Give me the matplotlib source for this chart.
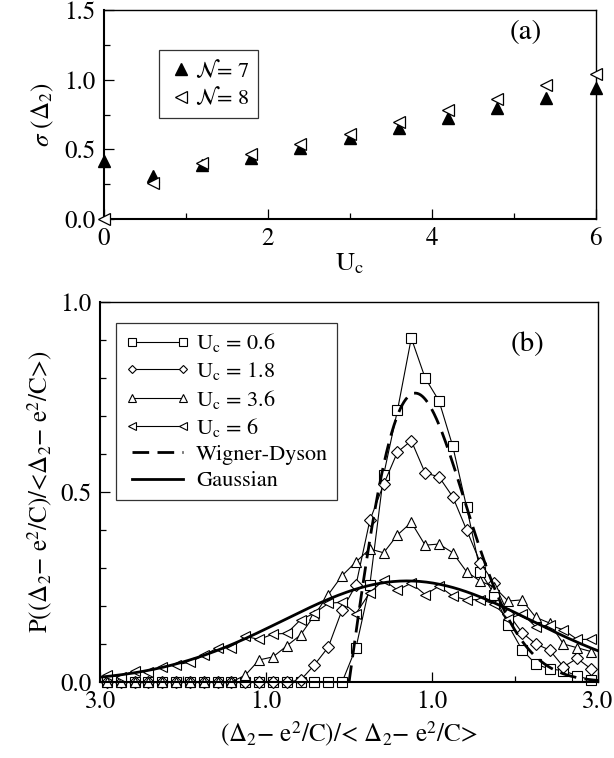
import numpy as np
import matplotlib
matplotlib.use('Agg')
import matplotlib.pyplot as plt
from matplotlib.ticker import MultipleLocator, FixedLocator

plt.rcParams['font.family'] = 'STIXGeneral'
plt.rcParams['mathtext.fontset'] = 'stix'

# (a) width of the Delta_2 distribution vs U_c
uc = [0.0, 0.6, 1.2, 1.8, 2.4, 3.0, 3.6, 4.2, 4.8, 5.4, 6.0]
sigma_n7 = [0.415, 0.31, 0.39, 0.44, 0.51, 0.58, 0.655, 0.725, 0.80, 0.87, 0.94]
sigma_n8 = [0.0, 0.26, 0.40, 0.47, 0.54, 0.61, 0.70, 0.78, 0.86, 0.96, 1.04]

# (b) histograms of the normalised spacing, 36 bins on [-3, 3]
bin_edges = np.linspace(-3, 3, 37)
s = 0.5 * (bin_edges[:-1] + bin_edges[1:])

p_uc06 = [0, 0, 0, 0, 0, 0, 0, 0, 0, 0, 0, 0, 0, 0, 0, 0, 0, 0,
          0.09, 0.255, 0.545, 0.715, 0.905, 0.80, 0.74, 0.62, 0.46, 0.29,
          0.23, 0.15, 0.085, 0.047, 0.034, 0.03, 0.016, 0.005]
p_uc18 = [0, 0, 0, 0, 0, 0, 0, 0, 0, 0, 0, 0, 0, 0,
          0.005, 0.045, 0.092, 0.19, 0.255, 0.425, 0.52, 0.605, 0.635, 0.55,
          0.54, 0.487, 0.40, 0.313, 0.26, 0.18, 0.13, 0.10, 0.084, 0.04,
          0.062, 0.034]
p_uc36 = [0, 0, 0, 0, 0, 0, 0, 0, 0, 0,
          0.018, 0.058, 0.066, 0.095, 0.124, 0.176, 0.23, 0.28, 0.316, 0.35,
          0.34, 0.387, 0.42, 0.36, 0.363, 0.34, 0.29, 0.265, 0.25, 0.213,
          0.216, 0.17, 0.155, 0.10, 0.09, 0.08]
p_uc6 = [0.018, 0.014, 0.03, 0.027, 0.04, 0.045, 0.052, 0.07, 0.09, 0.09,
         0.12, 0.112, 0.126, 0.128, 0.164, 0.181, 0.207, 0.21, 0.18, 0.235,
         0.268, 0.242, 0.26, 0.23, 0.252, 0.226, 0.216, 0.217, 0.205, 0.165,
         0.18, 0.145, 0.15, 0.137, 0.112, 0.112]

# reference distributions
gauss_mu = 0.7
gauss_sigma = 1.5
s_g = np.linspace(-3, 3, 300)
p_gauss = np.exp(-(s_g - gauss_mu) ** 2 / (2 * gauss_sigma ** 2)) / (gauss_sigma * np.sqrt(2 * np.pi))
s_wd = np.linspace(0, 3, 300)
p_wd = np.pi / 2 * s_wd * np.exp(-np.pi * s_wd ** 2 / 4)

fig = plt.figure(figsize=(6.14, 7.58), dpi=100)

# ---- panel (a)
ax1 = fig.add_axes([0.169, 0.711, 0.801, 0.2757])
ax1.plot(uc, sigma_n7, '^', color='black', ms=9, ls='none',
         label=r'$\mathcal{N}$= 7', clip_on=False, zorder=3)
ax1.plot(uc, sigma_n8, '<', color='black', mfc='white', ms=9, mew=0.9, ls='none',
         label=r'$\mathcal{N}$= 8', clip_on=False, zorder=4)
ax1.set_xlim(0, 6)
ax1.set_ylim(0, 1.5)
ax1.xaxis.set_major_locator(MultipleLocator(2))
ax1.xaxis.set_minor_locator(MultipleLocator(1))
ax1.yaxis.set_major_locator(MultipleLocator(0.5))
ax1.yaxis.set_minor_locator(MultipleLocator(0.25))
ax1.set_yticklabels(['', '0.0', '0.5', '1.0', '1.5'])
ax1.set_ylabel(r'$\sigma$ ($\Delta_2$)', fontsize=18, labelpad=6)
ax1.set_xlabel(r'U$_\mathrm{c}$', fontsize=19, labelpad=0)
ax1.text(4.95, 1.29, '(a)', fontsize=21)
leg1 = ax1.legend(loc='upper left', bbox_to_anchor=(0.09, 0.86), fontsize=16,
                  frameon=True, fancybox=False, edgecolor='black',
                  handletextpad=0.0, handlelength=1.2, borderpad=0.4,
                  labelspacing=0.2)
leg1.get_frame().set_linewidth(0.9)

# ---- panel (b)
ax2 = fig.add_axes([0.163, 0.1003, 0.811, 0.5013])
line_kw = dict(color='black', lw=0.8, mfc='white', ms=7, mew=0.8, clip_on=False)
ax2.plot(s, p_uc06, marker='s', label=r'U$_\mathrm{c}$ = 0.6', **line_kw)
ax2.plot(s, p_uc18, marker='D', label=r'U$_\mathrm{c}$ = 1.8',
         **{**line_kw, 'ms': 6})
ax2.plot(s, p_uc36, marker='^', label=r'U$_\mathrm{c}$ = 3.6', **line_kw)
ax2.plot(s, p_uc6, marker='<', label=r'U$_\mathrm{c}$ = 6', **line_kw)
ax2.plot(s_wd, p_wd, color='black', lw=2, ls=(0, (6, 3)), label='Wigner-Dyson')
ax2.plot(s_g, p_gauss, color='black', lw=2, label='Gaussian')
ax2.set_xlim(-3, 3)
ax2.set_ylim(0, 1.0)
ax2.xaxis.set_major_locator(FixedLocator([-3, -1, 1, 3]))
ax2.xaxis.set_minor_locator(FixedLocator([-2, 0, 2]))
ax2.set_xticklabels(['3.0', '1.0', '1.0', '3.0'])
ax2.yaxis.set_major_locator(MultipleLocator(0.5))
ax2.yaxis.set_minor_locator(MultipleLocator(0.1))
ax2.set_yticklabels(['', '0.0', '0.5', '1.0'])
ax2.set_xlabel(r'($\Delta_2$$-$ e$^2$/C)/< $\Delta_2$$-$ e$^2$/C>', fontsize=18, labelpad=4)
ax2.set_ylabel(r'P(($\Delta_2$$-$ e$^2$/C)/<$\Delta_2$$-$ e$^2$/C>)', fontsize=18, labelpad=4)
ax2.text(1.95, 0.87, '(b)', fontsize=21)
leg2 = ax2.legend(loc='upper left', bbox_to_anchor=(0.01, 0.975), fontsize=16,
                  frameon=True, fancybox=False, edgecolor='black', numpoints=2,
                  handlelength=2.9, handletextpad=0.3, borderpad=0.4,
                  labelspacing=0.25, markerscale=0.75)
leg2.get_frame().set_linewidth(0.9)

for ax in (ax1, ax2):
    ax.tick_params(which='both', direction='in', top=False, right=False,
                   labelsize=18, pad=6)
    ax.tick_params(which='major', length=7, width=0.9)
    ax.tick_params(which='minor', length=4, width=0.9)
    for sp in ax.spines.values():
        sp.set_linewidth(1.0)
    ax.spines['bottom'].set_linewidth(1.5)
    ax.spines['left'].set_linewidth(1.5)

fig.savefig('out.png', dpi=100)
